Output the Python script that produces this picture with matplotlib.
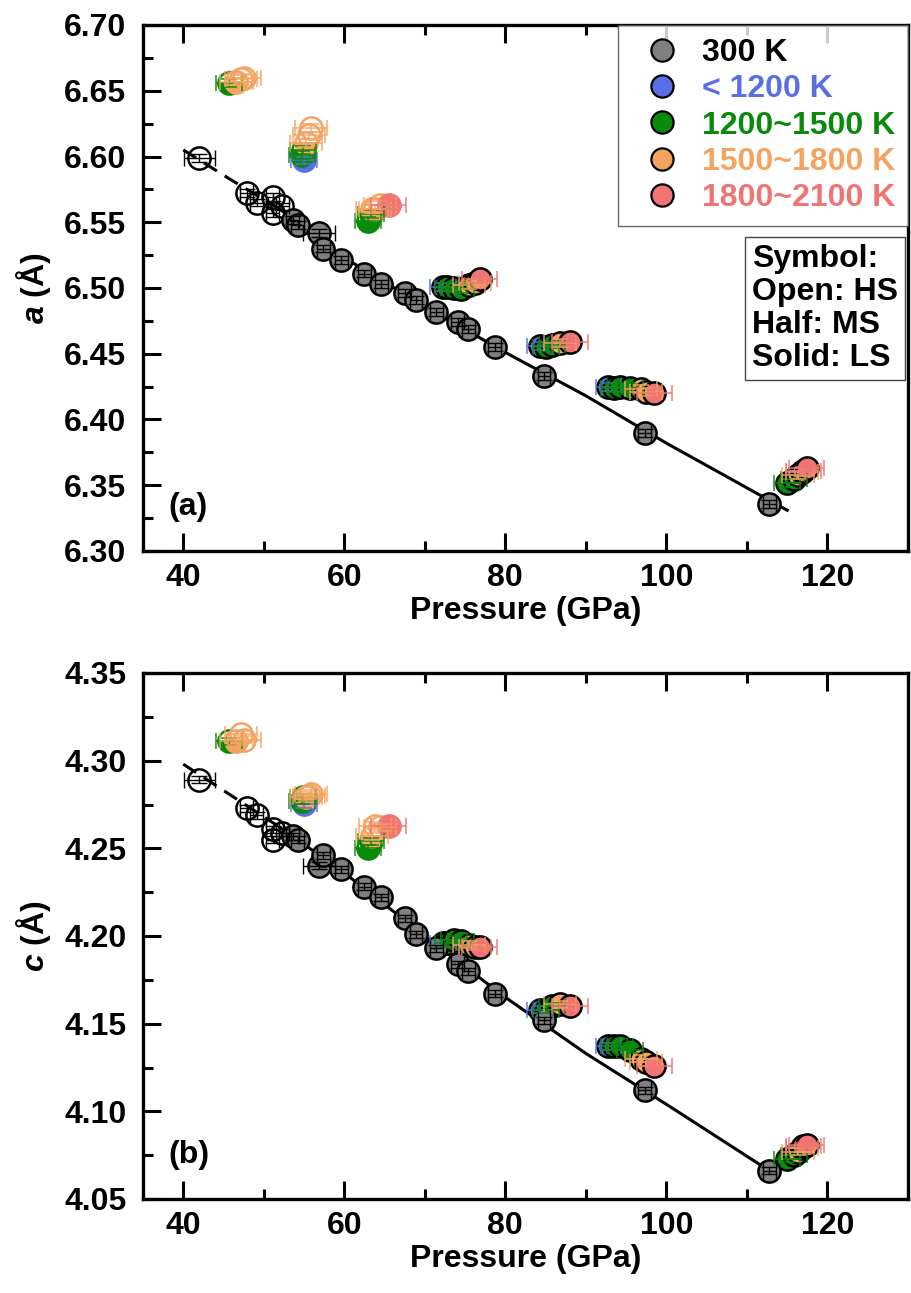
import matplotlib
matplotlib.use("Agg")
import matplotlib.pyplot as plt
from matplotlib.lines import Line2D
from matplotlib.ticker import MultipleLocator, FormatStrFormatter

plt.rcParams['font.family'] = ['Liberation Sans', 'DejaVu Sans']
plt.rcParams['font.weight'] = 'bold'
plt.rcParams['mathtext.fontset'] = 'custom'
plt.rcParams['mathtext.it'] = 'Liberation Sans:italic:bold'
plt.rcParams['mathtext.rm'] = 'Liberation Sans:bold'

# ---------------- data ----------------
# 300 K
p300 = [42.0, 47.9, 49.1, 51.1, 51.1, 52.3, 53.6, 54.2, 56.9, 57.4, 59.6, 62.5,
        64.6, 67.5, 68.9, 71.4, 74.1, 75.4, 78.7, 84.8, 97.3, 112.8]
a300 = [6.599, 6.572, 6.565, 6.569, 6.557, 6.562, 6.552, 6.548, 6.542, 6.530, 6.521, 6.511,
        6.503, 6.496, 6.491, 6.482, 6.474, 6.469, 6.455, 6.433, 6.390, 6.336]
c300 = [4.289, 4.273, 4.269, 4.261, 4.255, 4.259, 4.257, 4.255, 4.240, 4.246, 4.238, 4.228,
        4.222, 4.210, 4.201, 4.193, 4.184, 4.180, 4.167, 4.152, 4.112, 4.066]
s300 = ['open'] * 6 + ['solid'] * 16
xerr300 = [1.9, 0.8, 0.8, 0.8, 0.8, 0.8, 0.8, 0.8, 2.0, 0.8, 0.8, 0.8,
           0.8, 0.8, 0.8, 0.8, 0.8, 0.8, 0.8, 0.8, 0.8, 0.8]

# < 1200 K
p_blue = [55.0, 72.3, 84.3, 92.8]
a_blue = [6.597, 6.501, 6.456, 6.425]
c_blue = [4.275, 4.196, 4.158, 4.137]
s_blue = ['half', 'solid', 'solid', 'solid']

# 1200~1500 K
p_green = [45.7, 54.7, 54.9, 62.9, 63.3, 72.8, 73.6, 74.5, 85.0, 85.8, 93.5, 94.2, 95.5, 115.0, 115.8]
a_green = [6.656, 6.601, 6.605, 6.551, 6.556, 6.501, 6.500, 6.499, 6.455, 6.457, 6.424, 6.425, 6.424, 6.352, 6.355]
c_green = [4.311, 4.277, 4.279, 4.250, 4.254, 4.196, 4.198, 4.197, 4.158, 4.160, 4.137, 4.137, 4.135, 4.073, 4.075]
s_green = ['half', 'half', 'half', 'half', 'half', 'solid', 'solid', 'solid', 'solid', 'solid',
           'solid', 'solid', 'solid', 'solid', 'solid']

# 1500~1800 K
p_orange = [46.6, 47.2, 47.6, 55.2, 55.6, 55.9, 63.4, 63.8, 64.4, 75.5, 76.2, 86.8, 96.8, 97.5, 116.3, 116.8]
a_orange = [6.657, 6.659, 6.660, 6.610, 6.616, 6.622, 6.560, 6.560, 6.563, 6.502, 6.504, 6.458, 6.423, 6.421, 6.358, 6.360]
c_orange = [4.311, 4.315, 4.312, 4.279, 4.280, 4.281, 4.257, 4.263, 4.262, 4.195, 4.194, 4.161, 4.130, 4.128, 4.077, 4.079]
s_orange = ['half', 'open', 'open', 'half', 'open', 'open', 'half', 'open', 'open', 'solid', 'solid',
            'solid', 'solid', 'solid', 'solid', 'solid']

# 1800~2100 K
p_red = [65.5, 76.8, 88.0, 98.5, 117.0, 117.4]
a_red = [6.563, 6.507, 6.459, 6.420, 6.361, 6.363]
c_red = [4.263, 4.194, 4.160, 4.126, 4.080, 4.081]
s_red = ['filled', 'solid', 'solid', 'solid', 'solid', 'solid']

# EoS fit curves (nodes)
fit_p_a = [40, 46, 52, 60, 70, 80, 90, 100, 115]
fit_a = [6.605, 6.582, 6.560, 6.523, 6.486, 6.451, 6.418, 6.382, 6.331]
fit_p_c = [40, 46, 52, 60, 70, 80, 90, 100, 113.5]
fit_c = [4.298, 4.280, 4.262, 4.236, 4.200, 4.165, 4.133, 4.104, 4.064]

legend_labels = ['300 K', '< 1200 K', '1200~1500 K', '1500~1800 K', '1800~2100 K']
colors = ['#808080', '#5a6ee6', '#0a8a0a', '#f4a460', '#f07474']

# ---------------- figure ----------------
W, H = 911, 1293
fig = plt.figure(figsize=(W / 100, H / 100), dpi=100)
axA = fig.add_axes([143 / W, 1 - 551 / H, 765 / W, 526 / H])
axB = fig.add_axes([143 / W, 1 - 1199 / H, 765 / W, 526 / H])

MS = 16
FS = 23


def draw_group(ax, P, V, states, color, xerr, yerr, ecolor, edge_solid, errz=4.5, lw_err=1.2, alpha=0.85):
    ax.errorbar(P, V, xerr=xerr, yerr=yerr, fmt='none', ecolor=ecolor, elinewidth=lw_err,
                capsize=6, capthick=lw_err, zorder=errz, alpha=alpha)
    for p, v, s in zip(P, V, states):
        ec = edge_solid if color == colors[0] else color
        if s == 'open':
            ax.plot(p, v, 'o', ms=MS, mfc='none', mec=ec, mew=1.8, zorder=3)
        elif s == 'half':
            ax.plot(p, v, 'o', ms=MS, fillstyle='bottom', mfc=color, markerfacecoloralt='white',
                    mec=ec, mew=1.8, zorder=3)
        elif s == 'filled':
            ax.plot(p, v, 'o', ms=MS, mfc=color, mec=color, mew=1.8, zorder=3)
        else:
            ax.plot(p, v, 'o', ms=MS, mfc=color, mec=edge_solid, mew=1.8, zorder=4)


def panel(ax, V300, Vb, Vg, Vo, Vr, fitp, fitv, yerr):
    # fit curve: dashed up to 52 GPa, solid beyond
    ax.plot(fitp[:3], fitv[:3], color='black', lw=2.2, ls=(0, (5, 3)), zorder=1)
    ax.plot(fitp[2:], fitv[2:], color='black', lw=2.2, ls='-', zorder=1)
    draw_group(ax, p_blue, Vb, s_blue, colors[1], 1.6, yerr, colors[1], 'black')
    draw_group(ax, p_green, Vg, s_green, colors[2], 1.6, yerr, colors[2], 'black')
    draw_group(ax, p_orange, Vo, s_orange, colors[3], 2.0, yerr, colors[3], 'black')
    draw_group(ax, p_red, Vr, s_red, colors[4], 2.2, yerr, colors[4], 'black')
    draw_group(ax, p300, V300, s300, colors[0], xerr300, yerr, 'black', 'black', errz=5, lw_err=1.0, alpha=1)

    ax.set_xlim(35, 130)
    ax.xaxis.set_major_locator(MultipleLocator(20))
    ax.xaxis.set_minor_locator(MultipleLocator(10))
    ax.yaxis.set_major_locator(MultipleLocator(0.05))
    ax.yaxis.set_minor_locator(MultipleLocator(0.025))
    ax.yaxis.set_major_formatter(FormatStrFormatter('%.2f'))
    ax.tick_params(which='both', direction='in', width=2.2, top=True, right=False, labelsize=FS)
    ax.tick_params(axis='y', pad=12)
    ax.tick_params(axis='x', pad=9)
    ax.tick_params(which='major', length=13)
    ax.tick_params(which='minor', length=7)
    for sp in ax.spines.values():
        sp.set_linewidth(2.4)
    for lab in ax.get_xticklabels() + ax.get_yticklabels():
        lab.set_fontweight('bold')
    ax.set_xlabel('Pressure (GPa)', fontsize=FS, fontweight='bold', labelpad=2)


panel(axA, a300, a_blue, a_green, a_orange, a_red, fit_p_a, fit_a, 0.003)
axA.set_ylim(6.30, 6.70)
axA.set_ylabel(r'$a$ (Å)', fontsize=FS, fontweight='bold', labelpad=8)
axA.text(0.033, 0.084, '(a)', transform=axA.transAxes, fontsize=FS, fontweight='bold',
         ha='left', va='center')

panel(axB, c300, c_blue, c_green, c_orange, c_red, fit_p_c, fit_c, 0.002)
axB.set_ylim(4.05, 4.35)
axB.set_ylabel(r'$c$ (Å)', fontsize=FS, fontweight='bold', labelpad=8)
axB.text(0.033, 0.084, '(b)', transform=axB.transAxes, fontsize=FS, fontweight='bold',
         ha='left', va='center')

# legend
handles = [Line2D([], [], marker='o', ls='none', ms=16, mfc=c, mec='black', mew=1.6) for c in colors]
leg = axA.legend(handles, legend_labels, loc='upper right', bbox_to_anchor=(1.0, 1.0),
                 frameon=True, fancybox=False, prop={'weight': 'bold', 'size': FS},
                 labelspacing=0.2, handletextpad=0.31, borderpad=0.4, borderaxespad=0.0,
                 handlelength=1.9)
leg.get_frame().set_edgecolor('#444444')
leg.get_frame().set_linewidth(1.0)
leg.set_zorder(10)
lbl_colors = ['black', colors[1], colors[2], colors[3], colors[4]]
for t, c in zip(leg.get_texts(), lbl_colors):
    t.set_color(c)

axA.text(0.796, 0.583, 'Symbol:\nOpen: HS\nHalf: MS\nSolid: LS', transform=axA.transAxes,
         ha='left', va='top', fontsize=FS, fontweight='bold', linespacing=1.12,
         bbox=dict(boxstyle='square,pad=0.22', fc='white', ec='#444444', lw=1.0), zorder=10)

fig.savefig('out.png', dpi=100)
